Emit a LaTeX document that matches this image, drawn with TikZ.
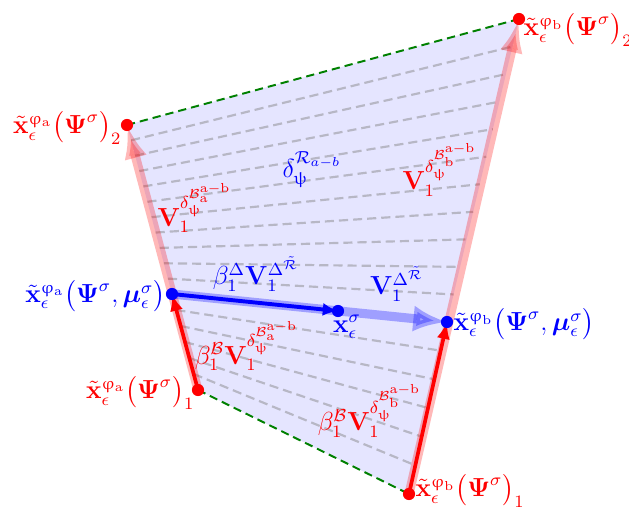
\documentclass[tikz,border=0pt]{standalone}
\usepackage{amsmath,amssymb}
\usepackage{upgreek}
\usetikzlibrary{arrows.meta,calc}
\newcommand{\xt}{\tilde{\mathbf{x}}}
\newcommand{\Psib}{\boldsymbol{\Psi}}
\newcommand{\mub}{\boldsymbol{\mu}}
\newcommand{\Vb}{\mathbf{V}}
\begin{document}
\begin{tikzpicture}[x=0.46pt,y=-0.46pt,
  dotr/.style={circle,fill=red,inner sep=0pt,minimum size=5.6pt},
  dotb/.style={circle,fill=blue,inner sep=0pt,minimum size=5.6pt},
  gridline/.style={gray,opacity=0.45,line width=1pt,dash pattern=on 4.2pt off 2.3pt},
  greendash/.style={green!50!black,line width=0.9pt,dash pattern=on 3.8pt off 2.3pt},
  pinkarrow/.style={red,opacity=0.28,line width=4.2pt,-{Latex[length=15.5pt,width=10.5pt]}},
  redarrow/.style={red,line width=1.7pt,-{Latex[length=7.8pt,width=6pt]}},
  lbluearrow/.style={blue,opacity=0.3,line width=4.2pt,-{Latex[length=15.5pt,width=12pt]}},
  bluearrow/.style={blue,line width=1.8pt,-{Latex[length=7pt,width=6pt]}},
  lab/.style={inner sep=1pt,font=\large}]
\useasboundingbox (0,0) rectangle (629,512);
\coordinate (A2) at (127,125);
\coordinate (B2) at (519,19);
\coordinate (Am) at (172,294);
\coordinate (Bm) at (447,322);
\coordinate (A1) at (198,390);
\coordinate (B1) at (409,494);
\coordinate (X) at (338,311);
\fill[blue!10] (A2) -- (B2) -- (Bm) -- (B1) -- (A1) -- (Am) -- cycle;
\foreach \i in {1,...,10} \draw[gridline] ($(A2)!\i/11!(Am)$) -- ($(B2)!\i/11!(Bm)$);
\foreach \i in {1,...,5} \draw[gridline] ($(Am)!\i/6!(A1)$) -- ($(Bm)!\i/6!(B1)$);
\draw[greendash] (A2) -- (B2);
\draw[greendash] (A1) -- (B1);
\draw[pinkarrow] (A1) -- (A2);
\draw[pinkarrow] (B1) -- (B2);
\draw[redarrow] (A1) -- (Am);
\draw[redarrow] (B1) -- (Bm);
\draw[lbluearrow] (Am) -- (Bm);
\draw[bluearrow] (Am) -- (X);
\node[dotr] (nA2) at (A2) {};
\node[dotr] (nB2) at (B2) {};
\node[dotr] (nA1) at (A1) {};
\node[dotr] (nB1) at (B1) {};
\node[dotb] (nAm) at (Am) {};
\node[dotb] (nBm) at (Bm) {};
\node[dotb] (nX) at (X) {};
\node[lab,red,anchor=west] (lB2) at (521,30) {$\xt_\epsilon^{\upvarphi_\mathrm{b}}\bigl(\Psib^\sigma\bigr)_2$};
\node[lab,red,anchor=east] (lA2) at (124,128) {$\xt_\epsilon^{\upvarphi_\mathrm{a}}\bigl(\Psib^\sigma\bigr)_2$};
\node[lab,blue,anchor=east] (lAm) at (168,296) {$\xt_\epsilon^{\upvarphi_\mathrm{a}}\bigl(\Psib^\sigma,\mub_\epsilon^\sigma\bigr)$};
\node[lab,blue,anchor=west] (lBm) at (451,324) {$\xt_\epsilon^{\upvarphi_\mathrm{b}}\bigl(\Psib^\sigma,\mub_\epsilon^\sigma\bigr)$};
\node[lab,red,anchor=east] (lA1) at (197,393) {$\xt_\epsilon^{\upvarphi_\mathrm{a}}\bigl(\Psib^\sigma\bigr)_1$};
\node[lab,red,anchor=west] (lB1) at (413,491) {$\xt_\epsilon^{\upvarphi_\mathrm{b}}\bigl(\Psib^\sigma\bigr)_1$};
\node[lab,blue] (lR) at (312,170) {$\delta_\uppsi^{\mathcal{R}_{a-b}}$};
\node[lab,red] (lVa) at (195,208) {$\Vb_1^{\delta_\uppsi^{\mathcal{B}_\mathrm{a}^\mathrm{a-b}}}$};
\node[lab,red] (lVb) at (440,170) {$\Vb_1^{\delta_\uppsi^{\mathcal{B}_\mathrm{b}^\mathrm{a-b}}}$};
\node[lab,blue] (lbD) at (256,274) {$\beta_1^\Delta\Vb_1^{\Delta^{\tilde{\mathcal{R}}}}$};
\node[lab,blue] (lVD) at (397,284) {$\Vb_1^{\Delta^{\tilde{\mathcal{R}}}}$};
\node[lab,blue] (lX) at (347,327) {$\mathbf{x}_\epsilon^\sigma$};
\node[lab,red] (lbA) at (247,346) {$\beta_1^\mathcal{B}\Vb_1^{\delta_\uppsi^{\mathcal{B}_\mathrm{a}^\mathrm{a-b}}}$};
\node[lab,red] (lbB) at (370,411) {$\beta_1^\mathcal{B}\Vb_1^{\delta_\uppsi^{\mathcal{B}_\mathrm{b}^\mathrm{a-b}}}$};
\end{tikzpicture}
\end{document}
